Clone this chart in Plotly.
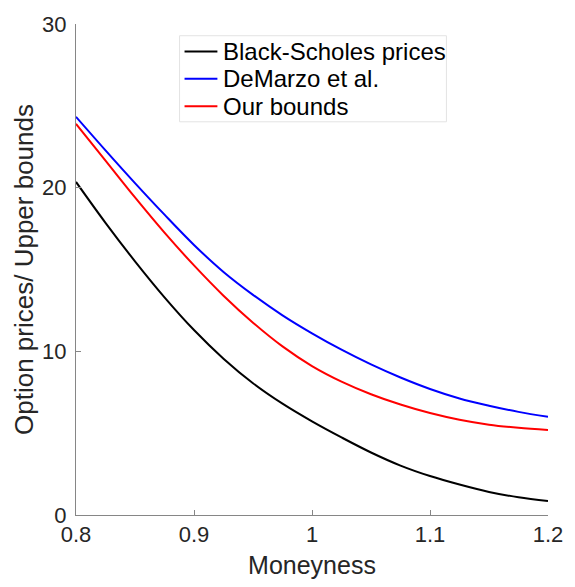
import plotly.graph_objects as go

moneyness = [0.80, 0.825, 0.85, 0.875, 0.90, 0.925, 0.95, 0.975, 1.00,
             1.025, 1.05, 1.075, 1.10, 1.125, 1.15, 1.175, 1.20]
black_scholes = [20.35, 17.85, 15.5, 13.3, 11.3, 9.55, 8.05, 6.8, 5.72,
                 4.74, 3.82, 3.02, 2.38, 1.86, 1.41, 1.08, 0.85]
demarzo = [24.33, 22.28, 20.28, 18.35, 16.5, 14.85, 13.45, 12.2, 11.1,
           10.1, 9.2, 8.4, 7.7, 7.12, 6.68, 6.3, 6.0]
our_bounds = [23.9, 21.65, 19.4, 17.25, 15.25, 13.4, 11.75, 10.3, 9.1,
              8.15, 7.38, 6.75, 6.23, 5.82, 5.52, 5.33, 5.2]

series_names = ["Black-Scholes prices", "DeMarzo et al.", "Our bounds"]
series_values = [black_scholes, demarzo, our_bounds]
series_colors = ["#000000", "#0000ff", "#ff0000"]

x_ticks = [0.8, 0.9, 1.0, 1.1, 1.2]
x_tick_labels = ["0.8", "0.9", "1", "1.1", "1.2"]
y_ticks = [0, 10, 20, 30]
y_tick_labels = ["0", "10", "20", "30"]

FONT = "Helvetica, 'Liberation Sans', Arial, sans-serif"
AXIS_COLOR = "#868686"
TEXT_COLOR = "#262626"

W, H = 575, 587
ML, MR, MT, MB = 76, 25, 19, 66
PW, PH = W - ML - MR, H - MT - MB


def px_to_paper_x(px):
    return (px - ML) / PW


def px_to_paper_y(py):
    return (H - MB - py) / PH


fig = go.Figure()
for name, vals, col in zip(series_names, series_values, series_colors):
    fig.add_trace(go.Scatter(
        x=moneyness, y=vals, mode="lines", name=name, showlegend=False,
        line=dict(color=col, width=2, shape="spline", smoothing=1.0),
    ))

# Legend box (drawn like the MATLAB legend)
legend_box = dict(x0=180, x1=448, y0=31, y1=119)
fig.add_shape(
    type="rect", xref="paper", yref="paper",
    x0=px_to_paper_x(legend_box["x0"]), x1=px_to_paper_x(legend_box["x1"]),
    y0=px_to_paper_y(legend_box["y1"]), y1=px_to_paper_y(legend_box["y0"]),
    line=dict(color="#e3e3e3", width=1), fillcolor="white", layer="above",
)
row_y = [47, 75, 103]
for name, col, ry in zip(series_names, series_colors, row_y):
    fig.add_shape(
        type="line", xref="paper", yref="paper",
        x0=px_to_paper_x(185), x1=px_to_paper_x(218),
        y0=px_to_paper_y(ry), y1=px_to_paper_y(ry),
        line=dict(color=col, width=2), layer="above",
    )
    fig.add_annotation(
        xref="paper", yref="paper", x=px_to_paper_x(222), y=px_to_paper_y(ry),
        text=name, showarrow=False, xanchor="left", yanchor="middle",
        font=dict(family=FONT, size=24, color="#000000"),
    )

axis_common = dict(
    showline=True, linecolor=AXIS_COLOR, linewidth=1,
    ticks="inside", ticklen=5, tickcolor=AXIS_COLOR, tickwidth=1,
    showgrid=False, zeroline=False, mirror=False,
    tickfont=dict(family=FONT, size=22, color=TEXT_COLOR),
)

fig.update_layout(
    width=W, height=H,
    margin=dict(l=ML, r=MR, t=MT, b=MB),
    paper_bgcolor="white", plot_bgcolor="white",
    font=dict(family=FONT, color=TEXT_COLOR),
    xaxis=dict(
        range=[0.8, 1.2], tickvals=x_ticks, ticktext=x_tick_labels,
        title=dict(text="Moneyness", font=dict(family=FONT, size=25, color=TEXT_COLOR), standoff=10),
        **axis_common,
    ),
    yaxis=dict(
        range=[0, 30], tickvals=y_ticks, ticktext=y_tick_labels,
        title=dict(text="Option prices/ Upper bounds", font=dict(family=FONT, size=26, color=TEXT_COLOR), standoff=1),
        ticklabelstandoff=4,
        **axis_common,
    ),
    showlegend=False,
)

fig.write_html("out.html")
